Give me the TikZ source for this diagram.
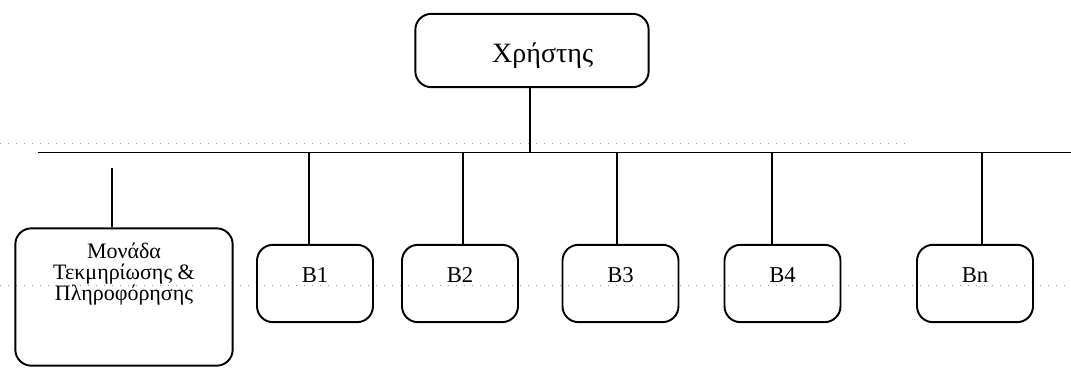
\documentclass[tikz,border=0pt]{standalone}
\usepackage{fontspec}
\setmainfont{Liberation Serif}
\usetikzlibrary{positioning}

\begin{document}
\begin{tikzpicture}[x=0.75pt,y=-0.75pt,line width=1.45pt,
  box/.style={draw=black, rounded corners=12pt, inner sep=0pt},
  bbox/.style={box, minimum width=87pt, minimum height=58pt},
  scan/.style={black!40, line width=0.5pt, dash pattern=on 1pt off 5pt}]
\useasboundingbox (0,0) rectangle (1071,368);

% faint scan rules
\draw[scan] (0,143) -- (905,143);
\draw[scan] (0,285) -- (1071,285);

% user box and bus
\node[box, minimum width=175pt, minimum height=55pt,
  label={[font=\fontsize{21}{24}\selectfont, xshift=8pt, yshift=-4pt]center:Χρήστης}] (usr) at (532,50.5) {};
\coordinate (busL) at (38,152.5);
\coordinate (busR) at (1071,152.5);
\coordinate (busU) at (530,152.5);
\draw (busL) -- (busR);
\draw (usr.south -| busU) -- (busU);

% documentation unit
\node[box, minimum width=163pt, minimum height=103pt] (mon) at (124,297) {};
\node[font=\fontsize{16.5}{15.5}\selectfont, align=center] (montxt) at (124,274)
  {Μονάδα\\Τεκμηρίωσης \&\\Πληροφόρησης};
\coordinate (monU) at (112,168);
\draw (monU) -- (monU |- mon.north);

% B boxes
\foreach \n/\cx/\lx in {B1/315/309, B2/460/463, B3/620.5/617, B4/782.5/772, Bn/975/982}{
  \node[bbox, label={[font=\fontsize{17}{18}\selectfont, yshift=6pt]center:\n}] (\n) at (\cx,283.5) {};
  \coordinate (t\n) at (\lx,152.5);
  \draw (t\n) -- (t\n |- \n.north);
}
\end{tikzpicture}
\end{document}
